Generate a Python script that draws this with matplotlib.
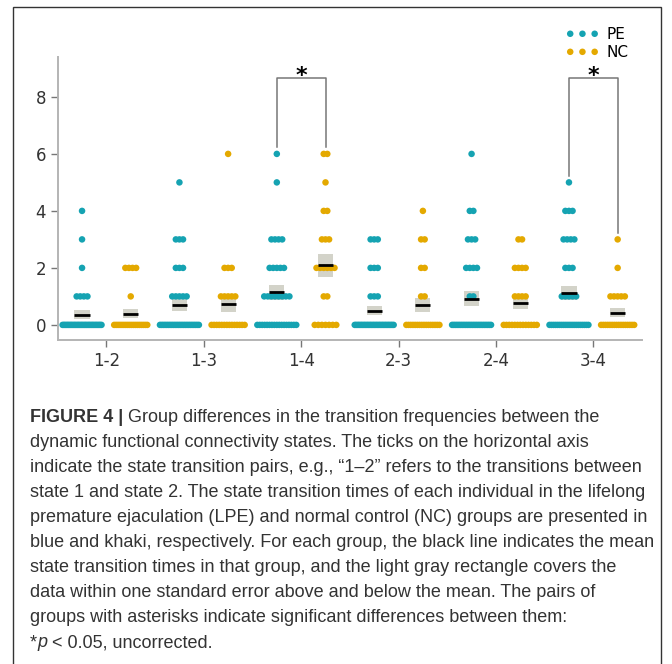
import numpy as np
import matplotlib
matplotlib.use("Agg")
import matplotlib.pyplot as plt
from matplotlib.patches import Rectangle

# transition pairs on the x axis
pairs = ["1-2", "1-3", "1-4", "2-3", "2-4", "3-4"]

# counts of subjects at each transition count (value: n)
pe_counts = [
    {4: 1, 3: 1, 2: 1, 1: 4, 0: 29},
    {5: 1, 3: 3, 2: 3, 1: 5, 0: 24},
    {6: 1, 5: 1, 3: 4, 2: 5, 1: 8, 0: 17},
    {3: 3, 2: 3, 1: 3, 0: 27},
    {6: 1, 4: 2, 3: 3, 2: 4, 1: 2, 0: 24},
    {5: 1, 4: 3, 3: 4, 2: 3, 1: 5, 0: 20},
]
nc_counts = [
    {2: 4, 1: 1, 0: 18},
    {6: 1, 2: 3, 1: 5, 0: 14},
    {6: 2, 5: 1, 4: 2, 3: 3, 2: 6, 1: 2, 0: 7},
    {4: 1, 3: 2, 2: 2, 1: 2, 0: 16},
    {3: 2, 2: 4, 1: 4, 0: 13},
    {3: 1, 2: 1, 1: 5, 0: 16},
]
sig_pairs = [2, 5]  # 1-4 and 3-4

pe_col = "#15a3b2"
nc_col = "#e4a900"
box_col = "#d3d3c9"

W, H, DPI = 672, 664, 100
fig = plt.figure(figsize=(W / DPI, H / DPI), dpi=DPI)
ax = fig.add_axes([57.7 / W, 1 - 340 / H, (642 - 57.7) / W, (340 - 57) / H])

step = 0.037     # gap between neighbouring dots
span = {"PE": 0.40, "NC": 0.34}  # widest a row may get
msize = 22


def draw_group(counts, center, color, maxspan):
    vals = []
    for v, k in counts.items():
        vals += [v] * k
        d = step
        if k > 1 and (k - 1) * d > maxspan:
            d = maxspan / (k - 1)
        xs = center + (np.arange(k) - (k - 1) / 2) * d
        ax.scatter(xs, [v] * k, s=msize, color=color, edgecolors="none", zorder=3)
    vals = np.array(vals, float)
    m = vals.mean()
    se = vals.std(ddof=1) / np.sqrt(len(vals))
    bw = 0.155
    ax.add_patch(Rectangle((center - bw / 2, m - se), bw, 2 * se,
                           facecolor=box_col, edgecolor="none", zorder=2))
    ax.plot([center - bw / 2, center + bw / 2], [m, m], color="black", lw=2, zorder=4,
            solid_capstyle="butt")
    return vals.max()


tops = []
for i in range(len(pairs)):
    a = draw_group(pe_counts[i], i - 0.25, pe_col, span["PE"])
    b = draw_group(nc_counts[i], i + 0.25, nc_col, span["NC"])
    tops.append((a, b))

for i in sig_pairs:
    a, b = tops[i]
    yb = 8.65
    ax.plot([i - 0.25, i - 0.25, i + 0.25, i + 0.25], [a + 0.23, yb, yb, b + 0.23],
            color="#777777", lw=1.1, zorder=1)
    ax.text(i, yb - 0.28, "*", ha="center", va="bottom", fontsize=16, fontweight="bold")

ax.set_xlim(-0.5, 5.5)
ax.set_ylim(-0.53, 9.4)
ax.set_xticks(range(len(pairs)))
ax.set_xticklabels(pairs)
ax.set_yticks([0, 2, 4, 6, 8])
for s in ["top", "right"]:
    ax.spines[s].set_visible(False)
for s in ["left", "bottom"]:
    ax.spines[s].set_color("#b4b4b4")
    ax.spines[s].set_linewidth(1.4)
ax.tick_params(colors="#777777", labelcolor="#333333", labelsize=12, length=5, width=1)

h1 = ax.scatter([], [], s=msize, color=pe_col, edgecolors="none")
h2 = ax.scatter([], [], s=msize, color=nc_col, edgecolors="none")
fig.legend([h1, h2], ["PE", "NC"], loc="upper right", bbox_to_anchor=(635 / W, 1 - 21 / H),
           frameon=False, scatterpoints=3, scatteryoffsets=[0.5], fontsize=11,
           handlelength=2.2, handletextpad=0.5, labelspacing=0.2, borderaxespad=0)

# outer frame
fig.patches.append(Rectangle((13 / W, -0.01), (661 - 13) / W, 1.01 - 6.7 / H,
                             transform=fig.transFigure, fill=False,
                             edgecolor="#333333", lw=1.0))

# caption
cap_font = ["Liberation Sans", "DejaVu Sans"]
lines = [
    "Group differences in the transition frequencies between the",
    "dynamic functional connectivity states. The ticks on the horizontal axis",
    "indicate the state transition pairs, e.g., \u201c1\u20132\u201d refers to the transitions between",
    "state 1 and state 2. The state transition times of each individual in the lifelong",
    "premature ejaculation (LPE) and normal control (NC) groups are presented in",
    "blue and khaki, respectively. For each group, the black line indicates the mean",
    "state transition times in that group, and the light gray rectangle covers the",
    "data within one standard error above and below the mean. The pairs of",
    "groups with asterisks indicate significant differences between them:",
]
renderer = fig.canvas.get_renderer()
x0 = 30 / W
y_first = 417
lh = 25.1
fs = 13.5
# scale the caption size so the widest line fits like in the picture
widest = 0
for ln in lines[1:]:
    probe = fig.text(x0, 0.5, ln, fontsize=fs, family=cap_font)
    widest = max(widest, probe.get_window_extent(renderer).width)
    probe.remove()
fs = fs * (653 - 30) / widest

tcol = "#333333"
for j in range(10):
    y = 1 - (y_first + j * lh) / H
    if j == 0:
        t = fig.text(x0, y, "FIGURE 4 | ", fontsize=fs, family=cap_font, fontweight="bold",
                     va="center", color=tcol)
        bb = t.get_window_extent(renderer)
        fig.text(bb.x1 / W, y, lines[0], fontsize=fs, family=cap_font, va="center", color=tcol)
    elif j < 9:
        fig.text(x0, y, lines[j], fontsize=fs, family=cap_font, va="center", color=tcol)
    else:
        t = fig.text(x0, y, "*", fontsize=fs, family=cap_font, va="center", color=tcol)
        bb = t.get_window_extent(renderer)
        t2 = fig.text(bb.x1 / W, y, "p", fontsize=fs, family=cap_font, style="italic",
                      va="center", color=tcol)
        bb2 = t2.get_window_extent(renderer)
        fig.text(bb2.x1 / W, y, " < 0.05, uncorrected.", fontsize=fs, family=cap_font,
                 va="center", color=tcol)

fig.savefig("out.png", dpi=DPI)
